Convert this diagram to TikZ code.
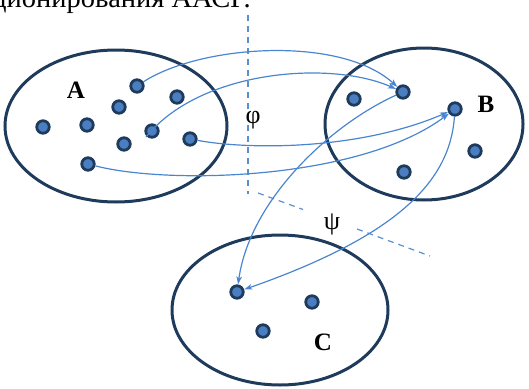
\documentclass[tikz,border=0pt]{standalone}
\usepackage{fontspec}
\setmainfont{Liberation Serif}
\definecolor{setcol}{HTML}{1F3B5C}
\definecolor{dotfill}{HTML}{4A7EC0}
\definecolor{arrcol}{HTML}{4A86CF}
\definecolor{dashcol}{HTML}{5B8FD0}
\usetikzlibrary{arrows.meta}

\tikzset{
  setline/.style={draw=setcol, line width=3pt},
  dot/.style={circle, draw=setcol, fill=dotfill, line width=2.8pt, inner sep=0pt, minimum size=12.5pt},
  arrowline/.style={draw=arrcol, line width=1.2pt, -{Stealth[length=8pt,width=5.5pt,inset=2pt]}},
  dashline/.style={draw=dashcol, line width=1.2pt, dash pattern=on 6pt off 5pt},
  setlbl/.style={font=\fontsize{25}{30}\selectfont\bfseries},
  maplbl/.style={font=\fontsize{26}{30}\selectfont}
}

\begin{document}
\begin{tikzpicture}[x=1pt, y=-1pt]
  \useasboundingbox (0,0) rectangle (529,388);

  % cut-off line of text above
  \node[anchor=base east, inner sep=0pt, font=\fontsize{28.5}{33}\selectfont] (head) at (251,8) {ционирования ААСГ.};

  % sets
  \draw[setline] (116,126) ellipse [x radius=111, y radius=76];
  \draw[setline] (424,124) ellipse [x radius=99, y radius=76];
  \draw[setline] (280,310) ellipse [x radius=108, y radius=75];

  \node[setlbl] (la) at (76,90) {A};
  \node[setlbl] (lb) at (486,104) {B};
  \node[setlbl] (lc) at (323,342) {C};

  % borders of the mappings
  \draw[dashline] (248,15) -- (248,194);
  \draw[dashline] (258,193) -- (303,209.5);
  \draw[dashline] (357,229) -- (430,256);
  \node[maplbl] (phi) at (253,120) {φ};
  \node[maplbl] (psi) at (332,224) {ψ};

  % elements
  \foreach \n/\x/\y in {
    a1/137/86, a2/177/97, a3/119/107, a4/43/127, a5/87/125,
    a6/152/131, a7/190/139, a8/124/144, a9/88/164,
    b1/354/99, b2/403/92, b3/455/109, b4/475/151, b5/404/172,
    c1/237/292, c2/312/302, c3/263/331} {
    \node[dot] (\n) at (\x,\y) {};
  }
  \coordinate (a6s) at (146,137);

  % phi : A -> B
  \draw[arrowline] (a1) .. controls (200,45) and (340,35) .. (b2);
  \draw[arrowline] (a6s) .. controls (200,70) and (330,60) .. (b2);
  \draw[arrowline] (a7) .. controls (250,150) and (360,150) .. (b3);
  \draw[arrowline] (a9) .. controls (170,185) and (360,180) .. (b3);

  % psi : B -> C
  \draw[arrowline] (b2) .. controls (330,125) and (250,200) .. (c1);
  \draw[arrowline] (b3) .. controls (450,180) and (400,235) .. (c1);
\end{tikzpicture}
\end{document}
